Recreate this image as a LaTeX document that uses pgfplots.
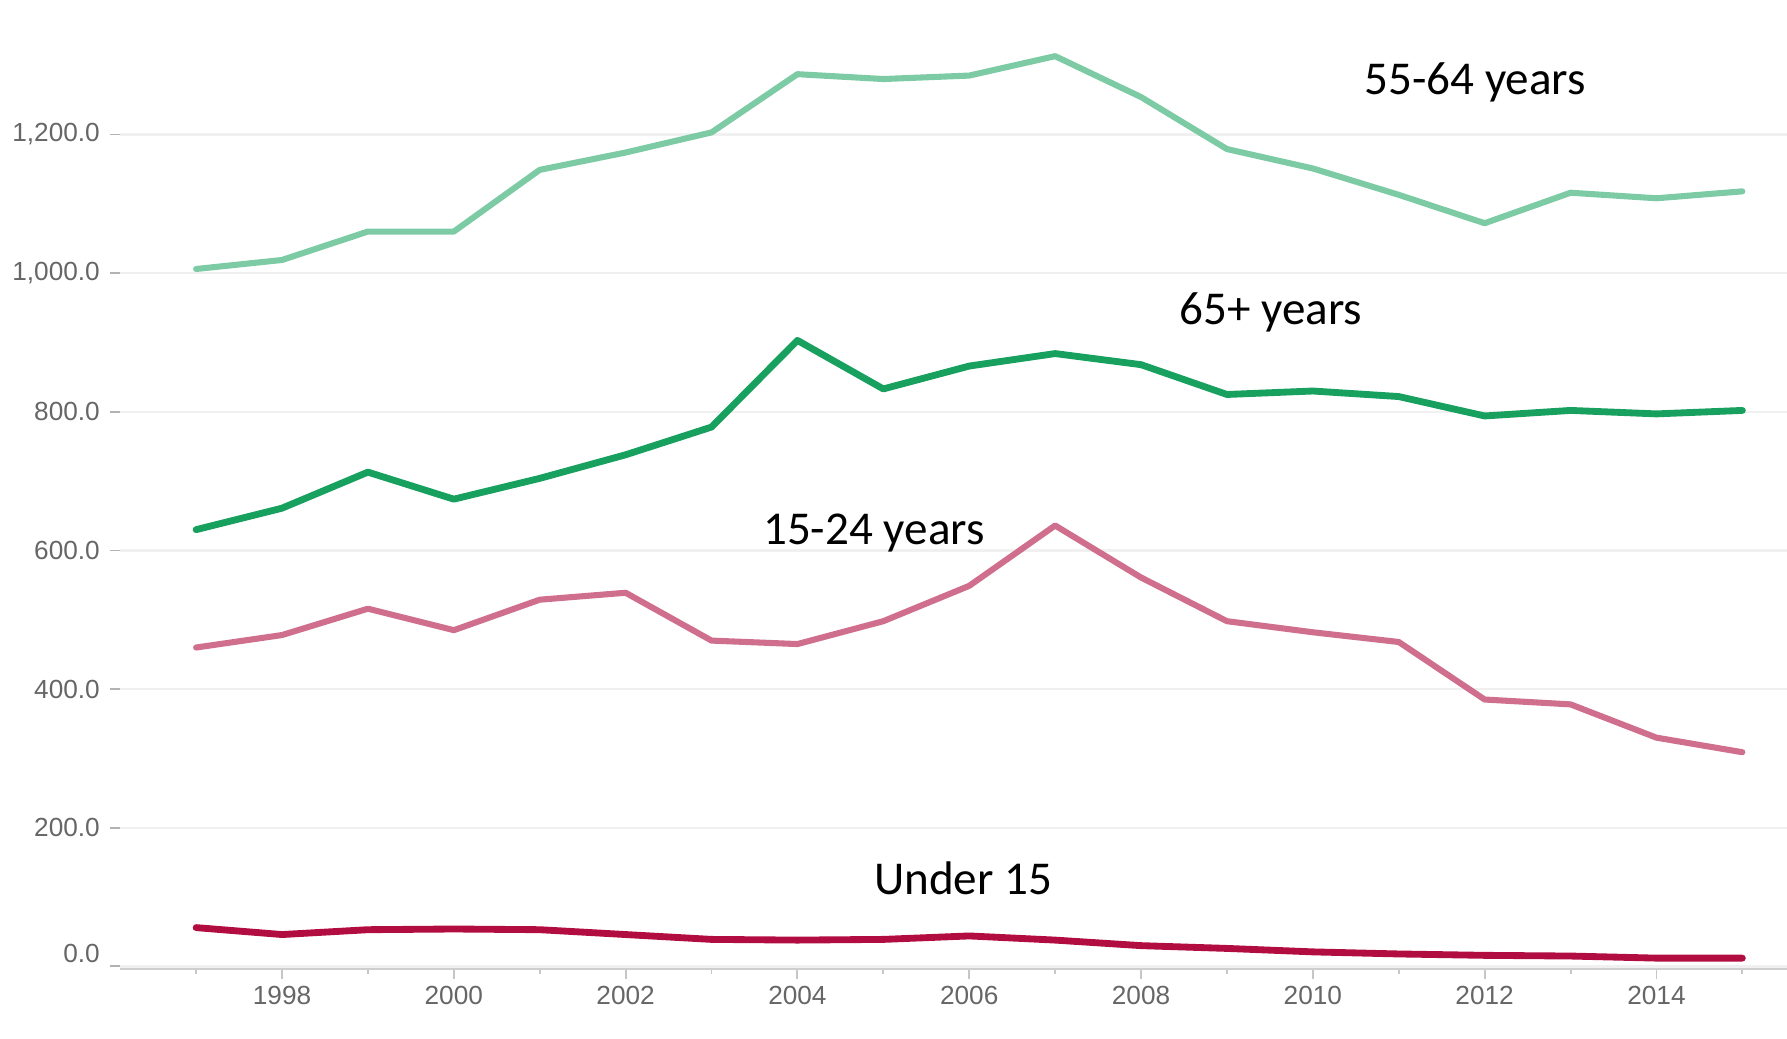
\documentclass[border=0pt]{standalone}
\usepackage{pgfplots}
\pgfplotsset{compat=1.18}
\usepackage{fontspec}
\setmainfont{Liberation Sans}
\newfontfamily\annfont{Carlito}
\definecolor{lgreen}{HTML}{7DCBA4}
\definecolor{dgreen}{HTML}{17A05E}
\definecolor{pinkc}{HTML}{CF6E8D}
\definecolor{crim}{HTML}{B20D40}
\definecolor{tickgray}{HTML}{666666}
\definecolor{gridc}{HTML}{F0F0F0}
\begin{document}
\begin{tikzpicture}
\begin{axis}[
  scale only axis,
  width=438.9pt, height=255pt,
  xmin=-0.89, xmax=18.52,
  ymin=-3.3, ymax=1394,
  axis x line=bottom, axis y line=left,
  x axis line style={draw=gridc!70!gray, line width=0.5pt, -},
  y axis line style={draw=none, -},
  xtick={1,3,...,17},
  xticklabels={1998,2000,2002,2004,2006,2008,2010,2012,2014},
  minor xtick={0,2,...,18},
  ytick={0,200,400,600,800,1000,1200},
  yticklabels={\raisebox{7pt}{0.0},200.0,400.0,600.0,800.0,{1,000.0},{1,200.0}},
  xticklabel style={font=\fontsize{6.9}{8}\selectfont, text=tickgray, yshift=1.6pt},
  yticklabel style={font=\fontsize{6.9}{8}\selectfont, text=tickgray, xshift=0.9pt},
  major tick length=2.6pt, minor tick length=1.4pt,
  tick align=outside,
  xtick style={draw=gray!45, line width=0.5pt},
  minor tick style={draw=gray!25, line width=0.4pt},
  ytick style={draw=gray!60, line width=0.5pt},
  ymajorgrids, major grid style={draw=gridc, line width=0.6pt},
  clip=false,
]
% 55-64 years
\addplot[lgreen, line width=1.6pt, line join=round, line cap=round] coordinates {
(0,1006) (1,1019) (2,1060) (3,1060) (4,1149) (5,1174) (6,1203)
(7,1287) (8,1280) (9,1285) (10,1313) (11,1254) (12,1179) (13,1151)
(14,1113) (15,1072) (16,1116) (17,1108) (18,1118)};
% 65+ years
\addplot[dgreen, line width=1.8pt, line join=round, line cap=round] coordinates {
(0,630) (1,661) (2,713) (3,674) (4,704) (5,738) (6,778)
(7,903) (8,833) (9,866) (10,884) (11,868) (12,825) (13,830)
(14,822) (15,794) (16,802) (17,797) (18,802)};
% 15-24 years
\addplot[pinkc, line width=1.6pt, line join=round, line cap=round] coordinates {
(0,460) (1,478) (2,516) (3,485) (4,529) (5,539) (6,470)
(7,465) (8,498) (9,549) (10,636) (11,561) (12,498) (13,482)
(14,468) (15,385) (16,378) (17,330) (18,309)};
% Under 15
\addplot[crim, line width=1.8pt, line join=round, line cap=round] coordinates {
(0,56) (1,46) (2,53) (3,54) (4,53) (5,46) (6,39)
(7,38) (8,39) (9,44) (10,38) (11,30) (12,26) (13,21)
(14,18) (15,16) (16,15) (17,12) (18,12)};
\node[font=\annfont\fontsize{12.4}{14}\selectfont] at (axis cs:14.89,1275.7) {55-64 years};
\node[font=\annfont\fontsize{12.4}{14}\selectfont] at (axis cs:12.51,943.6) {65+ years};
\node[font=\annfont\fontsize{12.4}{14}\selectfont] at (axis cs:7.89,624.7) {15-24 years};
\node[font=\annfont\fontsize{12.4}{14}\selectfont] at (axis cs:8.93,126.6) {Under 15};
\end{axis}
\path (current axis.south west) ++(-31.5pt,-18.3pt) coordinate (bl);
\path (current axis.north east) coordinate (tr);
\pgfresetboundingbox
\path[use as bounding box] (bl) rectangle (tr);
\end{tikzpicture}
\end{document}
